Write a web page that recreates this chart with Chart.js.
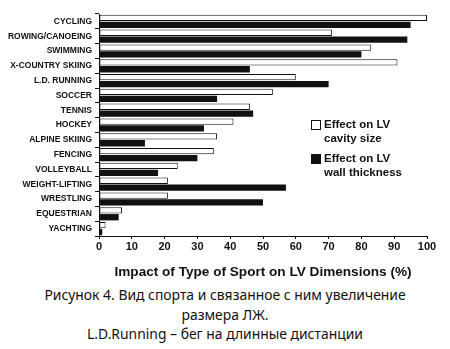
<!DOCTYPE html>
<html>
<head>
<meta charset="utf-8">
<script src="https://cdn.jsdelivr.net/npm/chart.js@4"></script>
<style>
  body { margin: 0; background: #fff; width: 450px; height: 349px; overflow: hidden; }
  #wrap { position: relative; width: 450px; height: 280px; }
  #legend {
    position: absolute; left: 311px; top: 117px;
    font: bold 11.5px "Liberation Sans", Arial, sans-serif; color: #111; line-height: 14px;
  }
  .item { display: flex; margin-bottom: 6px; }
  .box { width: 8px; height: 8px; border: 1px solid #111; margin: 3px 3px 0 0; flex: none; }
  #caption {
    text-align: center; font: 13.9px "Noto Sans", sans-serif; color: #111;
    line-height: 19.5px; margin-top: 5px;
  }
</style>
</head>
<body>
<div id="wrap">
  <canvas id="chart" width="450" height="280"></canvas>
  <div id="legend"></div>
</div>
<div id="caption">Рисунок 4. Вид спорта и связанное с ним увеличение<br>размера ЛЖ.<br>L.D.Running – бег на длинные дистанции</div>
<script>
const sports = ["CYCLING", "ROWING/CANOEING", "SWIMMING", "X-COUNTRY SKIING", "L.D. RUNNING",
  "SOCCER", "TENNIS", "HOCKEY", "ALPINE SKIING", "FENCING", "VOLLEYBALL", "WEIGHT-LIFTING",
  "WRESTLING", "EQUESTRIAN", "YACHTING"];
const cavitySize = [100, 71, 83, 91, 60, 53, 46, 41, 36, 35, 24, 21, 21, 7, 2];
const wallThickness = [95, 94, 80, 46, 70, 36, 47, 32, 14, 30, 18, 57, 50, 6, 1];
const xTicks = [0, 10, 20, 30, 40, 50, 60, 70, 80, 90, 100];
const seriesLabels = [["Effect on LV", "cavity size"], ["Effect on LV", "wall thickness"]];
const axisTitle = "Impact of Type of Sport on LV Dimensions (%)";

const ink = "#111";

new Chart(document.getElementById("chart"), {
  type: "bar",
  data: {
    labels: sports,
    datasets: [
      {
        label: seriesLabels[0].join(" "),
        data: cavitySize,
        backgroundColor: "#fff",
        borderColor: ink,
        borderWidth: 1,
        borderSkipped: false,
      },
      {
        label: seriesLabels[1].join(" "),
        data: wallThickness,
        backgroundColor: ink,
        borderWidth: 0,
      },
    ],
  },
  options: {
    indexAxis: "y",
    responsive: false,
    animation: false,
    datasets: { bar: { categoryPercentage: 0.93, barPercentage: 0.92 } },
    layout: { padding: { top: 14, right: 23, left: 0, bottom: 0 } },
    plugins: { legend: { display: false }, tooltip: { enabled: false } },
    scales: {
      x: {
        min: 0,
        max: 100,
        afterBuildTicks: (scale) => { scale.ticks = xTicks.map((v) => ({ value: v })); },
        afterFit: (scale) => { scale.height = 44; },
        border: { color: ink, width: 1 },
        grid: { drawOnChartArea: false, color: ink, tickLength: 3 },
        ticks: { color: ink, padding: 1, font: { family: "Liberation Sans", weight: "bold", size: 11 } },
        title: {
          display: true,
          text: axisTitle,
          color: ink,
          padding: { top: 6, bottom: 0 },
          font: { family: "Liberation Sans", weight: "bold", size: 13.6 },
        },
      },
      y: {
        afterFit: (scale) => { scale.width = 99; },
        border: { color: ink, width: 1 },
        grid: { drawOnChartArea: false, color: ink, tickLength: 4, offset: true },
        ticks: { color: ink, padding: 3, font: { family: "Liberation Sans", weight: "bold", size: 8.5 } },
      },
    },
  },
});

document.getElementById("legend").innerHTML = seriesLabels.map((lines, i) =>
  `<div class="item"><div class="box" style="background:${i ? ink : "#fff"}"></div><div>${lines.join("<br>")}</div></div>`
).join("");
</script>
</body>
</html>
